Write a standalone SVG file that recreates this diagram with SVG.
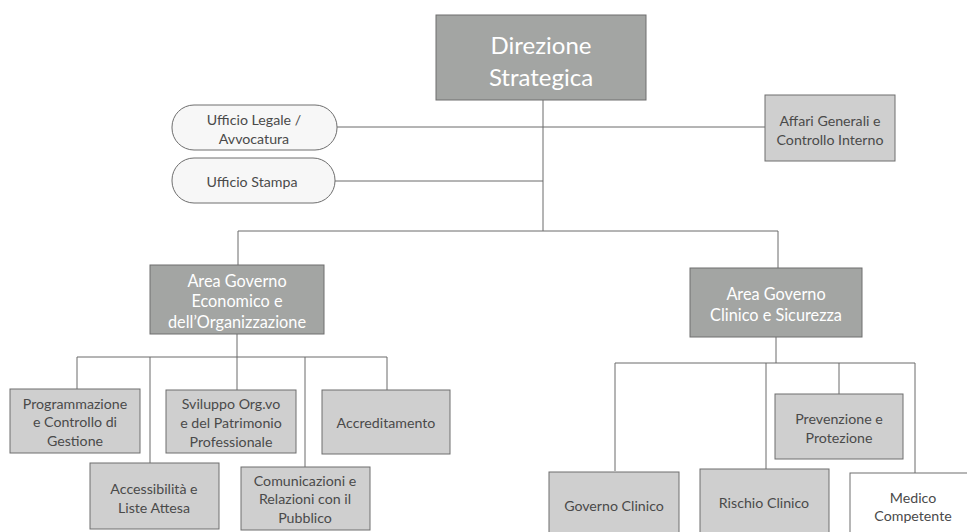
<svg xmlns="http://www.w3.org/2000/svg" width="967" height="532" viewBox="0 0 967 532">
<style>
.bg{fill:#ffffff}
.dark{fill:#a3a5a3;stroke:#6e6e6e;stroke-width:1}
.light{fill:#cfcfcf;stroke:#6e6e6e;stroke-width:1}
.white{fill:#ffffff;stroke:#6e6e6e;stroke-width:1}
.pill{fill:#f7f7f7;stroke:#6e6e6e;stroke-width:1}
.conn line{stroke:#6a6a6a;stroke-width:1}
text{font-family:Lato,"Open Sans","Liberation Sans",sans-serif;text-anchor:middle;dominant-baseline:central}
.tw{fill:#ffffff}
.td{fill:#4a4a4a;font-size:14.2px}
.big{font-size:24px}
.mid{font-size:16.3px}
</style>
<rect class="bg" x="0" y="0" width="967" height="532"/>
<g id="connectors" class="conn">
<line x1="543" y1="100" x2="543" y2="231"/>
<line x1="337" y1="127" x2="765" y2="127"/>
<line x1="335" y1="181" x2="543" y2="181"/>
<line x1="238" y1="231" x2="778" y2="231"/>
<line x1="238" y1="231" x2="238" y2="265"/>
<line x1="778" y1="231" x2="778" y2="268"/>
<line x1="237" y1="334" x2="237" y2="390"/>
<line x1="77" y1="357" x2="387" y2="357"/>
<line x1="77" y1="357" x2="77" y2="389"/>
<line x1="150" y1="357" x2="150" y2="463"/>
<line x1="305" y1="357" x2="305" y2="467"/>
<line x1="387" y1="357" x2="387" y2="390"/>
<line x1="776" y1="337" x2="776" y2="363"/>
<line x1="615" y1="363" x2="915" y2="363"/>
<line x1="615" y1="363" x2="615" y2="471"/>
<line x1="766" y1="363" x2="766" y2="469"/>
<line x1="839" y1="363" x2="839" y2="394"/>
<line x1="915" y1="363" x2="915" y2="473"/>
</g>
<g id="direzione">
<rect class="dark" x="436" y="15" width="210" height="85"/>
<text class="tw big" x="541" y="44">Direzione</text>
<text class="tw big" x="541" y="76">Strategica</text>
</g>
<g id="ufficio-legale">
<rect class="pill" x="172" y="105" width="165" height="45" rx="22" ry="22"/>
<text class="td" x="254" y="119">Ufficio Legale /</text>
<text class="td" x="254" y="138">Avvocatura</text>
</g>
<g id="ufficio-stampa">
<rect class="pill" x="172" y="158" width="163" height="45" rx="22" ry="22"/>
<text class="td" x="252" y="181">Ufficio Stampa</text>
</g>
<g id="affari-generali">
<rect class="light" x="765" y="95" width="130" height="66"/>
<text class="td" x="830" y="120">Affari Generali e</text>
<text class="td" x="830" y="139">Controllo Interno</text>
</g>
<g id="area-economico">
<rect class="dark" x="150" y="265" width="174" height="69"/>
<text class="tw mid" x="237" y="280">Area Governo</text>
<text class="tw mid" x="237" y="300">Economico e</text>
<text class="tw mid" x="237" y="321">dell’Organizzazione</text>
</g>
<g id="area-clinico">
<rect class="dark" x="690" y="268" width="172" height="69"/>
<text class="tw mid" x="776" y="293">Area Governo</text>
<text class="tw mid" x="776" y="314">Clinico e Sicurezza</text>
</g>
<g id="programmazione">
<rect class="light" x="10" y="389" width="130" height="64"/>
<text class="td" x="75" y="403">Programmazione</text>
<text class="td" x="75" y="421">e Controllo di</text>
<text class="td" x="75" y="440">Gestione</text>
</g>
<g id="accessibilita">
<rect class="light" x="90" y="463" width="129" height="66"/>
<text class="td" x="154" y="488">Accessibilità e</text>
<text class="td" x="154" y="507">Liste Attesa</text>
</g>
<g id="sviluppo">
<rect class="light" x="166" y="390" width="130" height="63"/>
<text class="td" x="231" y="403">Sviluppo Org.vo</text>
<text class="td" x="231" y="422">e del Patrimonio</text>
<text class="td" x="231" y="441">Professionale</text>
</g>
<g id="comunicazioni">
<rect class="light" x="241" y="467" width="129" height="63"/>
<text class="td" x="305" y="480">Comunicazioni e</text>
<text class="td" x="305" y="498">Relazioni con il</text>
<text class="td" x="305" y="517">Pubblico</text>
</g>
<g id="accreditamento">
<rect class="light" x="322" y="390" width="128" height="64"/>
<text class="td" x="386" y="422">Accreditamento</text>
</g>
<g id="prevenzione">
<rect class="light" x="775" y="394" width="128" height="65"/>
<text class="td" x="839" y="418">Prevenzione e</text>
<text class="td" x="839" y="437">Protezione</text>
</g>
<g id="governo-clinico">
<rect class="light" x="549" y="472" width="130" height="70"/>
<text class="td" x="614" y="505">Governo Clinico</text>
</g>
<g id="rischio-clinico">
<rect class="light" x="700" y="469" width="129" height="73"/>
<text class="td" x="764" y="502">Rischio Clinico</text>
</g>
<g id="medico-competente">
<rect class="white" x="850" y="473" width="130" height="69"/>
<text class="td" x="913" y="497">Medico</text>
<text class="td" x="913" y="515">Competente</text>
</g>
</svg>
